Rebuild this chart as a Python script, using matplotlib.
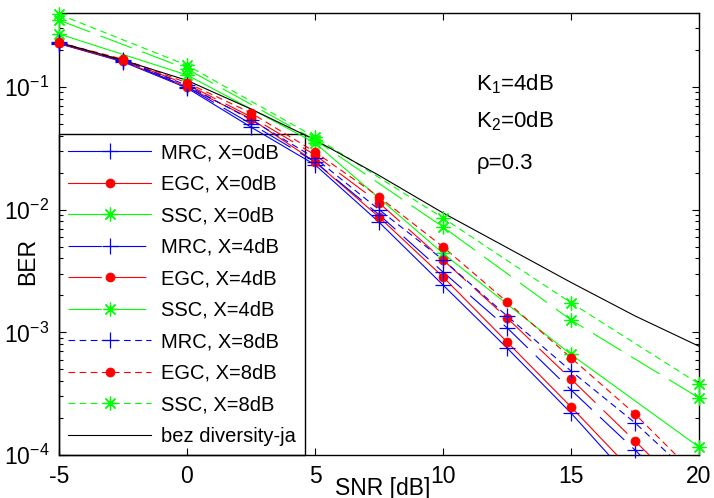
import numpy as np
import matplotlib
matplotlib.use('Agg')
import matplotlib.pyplot as plt
from matplotlib.lines import Line2D
from matplotlib.ticker import FixedLocator, LogLocator, NullFormatter, FuncFormatter

plt.rcParams['font.family'] = ['Liberation Sans', 'DejaVu Sans']
plt.rcParams['mathtext.default'] = 'regular'
plt.rcParams['axes.unicode_minus'] = False

# ---------------- data ----------------
snr = [-5, -2.5, 0, 2.5, 5, 7.5, 10, 12.5, 15, 17.5, 20]
snr_ssc = [-5, 0, 5, 10, 15, 20]

mrc_x0 = [0.225, 0.160, 0.098, 0.047, 0.0232, 0.0079, 0.00243, 0.000746, 0.00022, 0.000058, 0.000015]
egc_x0 = [0.226, 0.162, 0.100, 0.055, 0.0245, 0.0087, 0.00283, 0.000835, 0.000247, 0.00007, 0.00002]
ssc_x0 = [0.27, 0.125, 0.035, 0.0044, 0.00066, 0.000116]

mrc_x4 = [0.228, 0.163, 0.100, 0.050, 0.0245, 0.0091, 0.0031, 0.00109, 0.000339, 0.00011, 0.000033]
egc_x4 = [0.228, 0.165, 0.105, 0.057, 0.0279, 0.01135, 0.00389, 0.00131, 0.000417, 0.00013, 0.00004]
ssc_x4 = [0.35, 0.14, 0.037, 0.00722, 0.00126, 0.000292]

mrc_x8 = [0.230, 0.165, 0.103, 0.054, 0.0263, 0.0100, 0.0039, 0.00136, 0.000484, 0.000183, 0.00006]
egc_x8 = [0.230, 0.168, 0.108, 0.0614, 0.0295, 0.0127, 0.00497, 0.00177, 0.00062, 0.000216, 0.000065]
ssc_x8 = [0.39, 0.15, 0.039, 0.00855, 0.00174, 0.00038]

nodiv = [0.23, 0.165, 0.113, 0.066, 0.037, 0.019, 0.0094, 0.0049, 0.00255, 0.00136, 0.00077]

labels = ['MRC, X=0dB', 'EGC, X=0dB', 'SSC, X=0dB',
          'MRC, X=4dB', 'EGC, X=4dB', 'SSC, X=4dB',
          'MRC, X=8dB', 'EGC, X=8dB', 'SSC, X=8dB',
          'bez diversity-ja']

# ---------------- styles ----------------
YMIN, YMAX = 1e-4, 0.4
LW = 0.8
ls0 = '-'
ls4 = (0, (30, 10))
ls8 = (0, (6, 4))
asterisk = (8, 2, 0)

mk = {
    'MRC': dict(color='blue', marker='+', ms=11, mew=0.9),
    'EGC': dict(color='red', marker='o', ms=6.5, mew=0.5, mfc='red', mec='red'),
    'SSC': dict(color='#00ff00', marker=asterisk, ms=10, mew=0.9),
}

series = [
    (snr, mrc_x0, 'MRC', ls0), (snr, egc_x0, 'EGC', ls0), (snr_ssc, ssc_x0, 'SSC', ls0),
    (snr, mrc_x4, 'MRC', ls4), (snr, egc_x4, 'EGC', ls4), (snr_ssc, ssc_x4, 'SSC', ls4),
    (snr, mrc_x8, 'MRC', ls8), (snr, egc_x8, 'EGC', ls8), (snr_ssc, ssc_x8, 'SSC', ls8),
]

fig = plt.figure(figsize=(7.14, 4.98), dpi=100)
ax = fig.add_axes([0.0826, 0.0863, 0.8964, 0.8876])

handles = []
for x, y, kind, ls in series:
    x = np.asarray(x, float)
    y = np.asarray(y, float)
    st = mk[kind]
    ax.plot(x, y, color=st['color'], ls=ls, lw=LW, zorder=3)
    inside = (y >= YMIN) & (y <= YMAX * 1.2)
    ax.plot(x[inside], y[inside], ls='none', clip_on=False, zorder=4,
            **{k: v for k, v in st.items()})
    handles.append(Line2D([], [], ls=ls, lw=LW, **st))

ax.plot(snr, nodiv, color='black', lw=LW, zorder=3)
handles.append(Line2D([], [], color='black', lw=LW))

ax.set_yscale('log')
ax.set_xlim(-5, 20)
ax.set_ylim(YMIN, YMAX)
ax.xaxis.set_major_locator(FixedLocator([-5, 0, 5, 10, 15, 20]))
ax.yaxis.set_major_locator(LogLocator(base=10, numticks=10))
ax.yaxis.set_minor_locator(LogLocator(base=10, subs=np.arange(2, 10), numticks=20))
ax.yaxis.set_minor_formatter(NullFormatter())
ax.yaxis.set_major_formatter(FuncFormatter(lambda v, p: r'$10^{%d}$' % int(round(np.log10(v)))))

ax.tick_params(which='both', direction='in', top=True, right=True, labelsize=16.5, width=0.8)
ax.tick_params(which='major', length=5, pad=7)
ax.tick_params(which='minor', length=3)
for s in ax.spines.values():
    s.set_linewidth(1.0)

ax.set_xlabel('SNR [dB]', fontsize=16.5)
ax.xaxis.set_label_coords(0.505, -0.05)
ax.set_ylabel('BER', fontsize=16.5)
ax.yaxis.set_label_coords(-0.031, 0.437)

ax.text(0.652, 0.84, r'K$_1$=4dB', transform=ax.transAxes, fontsize=16, va='center', ha='left')
ax.text(0.652, 0.755, r'K$_2$=0dB', transform=ax.transAxes, fontsize=16, va='center', ha='left')
ax.text(0.652, 0.66, 'ρ=0.3', transform=ax.transAxes, fontsize=16, va='center', ha='left')

leg = ax.legend(handles, labels, loc='lower left', bbox_to_anchor=(0, 0), borderaxespad=0,
                fancybox=False, edgecolor='black', framealpha=1, fontsize=14.5,
                handlelength=4.1, handletextpad=0.5, labelspacing=0.62, borderpad=0.47)
leg.get_frame().set_linewidth(1.0)
leg.set_zorder(1)

fig.savefig('out.png', dpi=100)
